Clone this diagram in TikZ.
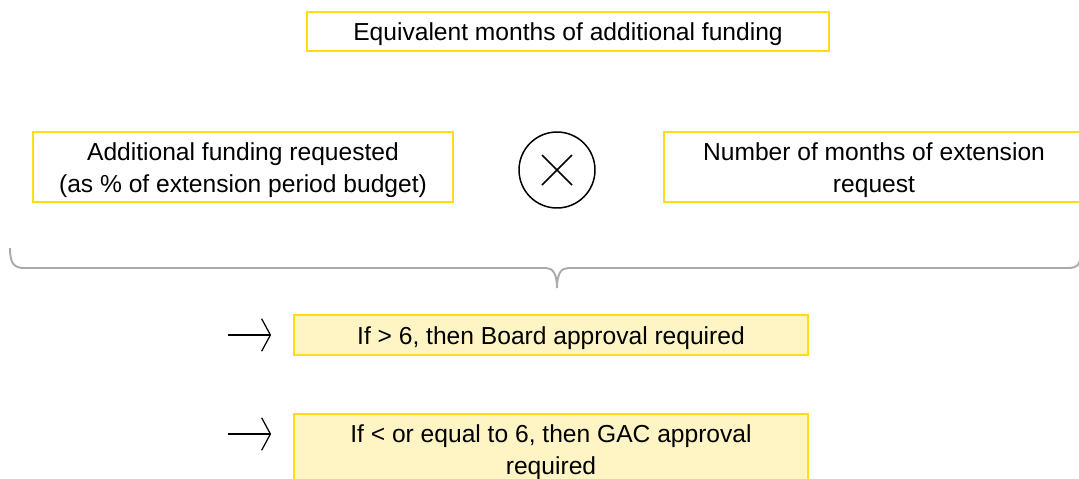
\documentclass[tikz,border=0pt]{standalone}
\usepackage{fontspec}
\setmainfont{Liberation Sans}
\usetikzlibrary{arrows.meta}
\definecolor{gold}{RGB}{255,220,20}
\definecolor{paleyellow}{RGB}{255,244,196}
\definecolor{bracegray}{RGB}{170,170,170}
\newcommand{\lift}{\rule{0pt}{13.4pt}}

\begin{document}
\begin{tikzpicture}[x=0.02cm,y=-0.02cm,
  every node/.style={font=\fontsize{14pt}{18pt}\selectfont, align=center, inner sep=0pt},
  plain box/.style={draw=gold, line width=1.1pt, fill=white},
  rule box/.style={draw=gold, line width=1.1pt, fill=paleyellow, minimum width=10.28cm},
  arr/.style={line width=1.1pt, -{Straight Barb[length=5pt,width=18.5pt,line width=0.7pt]}, shorten >=12.5pt}]
\useasboundingbox (0,0) rectangle (1079,478);
\node[plain box, minimum width=10.44cm, minimum height=0.78cm] (equiv) at (568,31.5) {\lift Equivalent months of additional funding};
\node[plain box, minimum width=8.4cm, minimum height=1.4cm] (funding) at (243,167) {\lift Additional funding requested\\(as \% of extension period budget)};
\node[draw, circle, line width=0.85pt, minimum size=1.52cm] (times) at (557,170) {};
\draw[line width=0.85pt] ([shift={(-15,-15)}]times.center) -- ([shift={(15,15)}]times.center)
  ([shift={(-15,15)}]times.center) -- ([shift={(15,-15)}]times.center);
\node[plain box, minimum width=8.4cm, minimum height=1.4cm] (months) at (874,167) {\lift Number of months of extension\\request};
\coordinate (bl) at (10,248);
\coordinate (bt) at (557,288);
\coordinate (br) at (1081,250);
\draw[bracegray, line width=1.1pt] (bl) .. controls (10,262) and (13,268) .. (24,268) -- (546,268)
  .. controls (553,268) and (557,274) .. (bt) .. controls (557,274) and (561,268) .. (568,268)
  -- (1068,268) .. controls (1078,268) and (1081,264) .. (br);
\node[rule box, minimum height=0.8cm] (board) at (551,335) {\lift If > 6, then Board approval required};
\node[rule box, minimum height=1.4cm] (gac) at (551,449) {\lift If < or equal to 6, then GAC approval\\required};
\coordinate (s1) at (228,335);
\coordinate (s2) at (228,434);
\draw[arr] (s1) -- (s1 -| board.west);
\draw[arr] (s2) -- (s2 -| gac.west);
\end{tikzpicture}
\end{document}
